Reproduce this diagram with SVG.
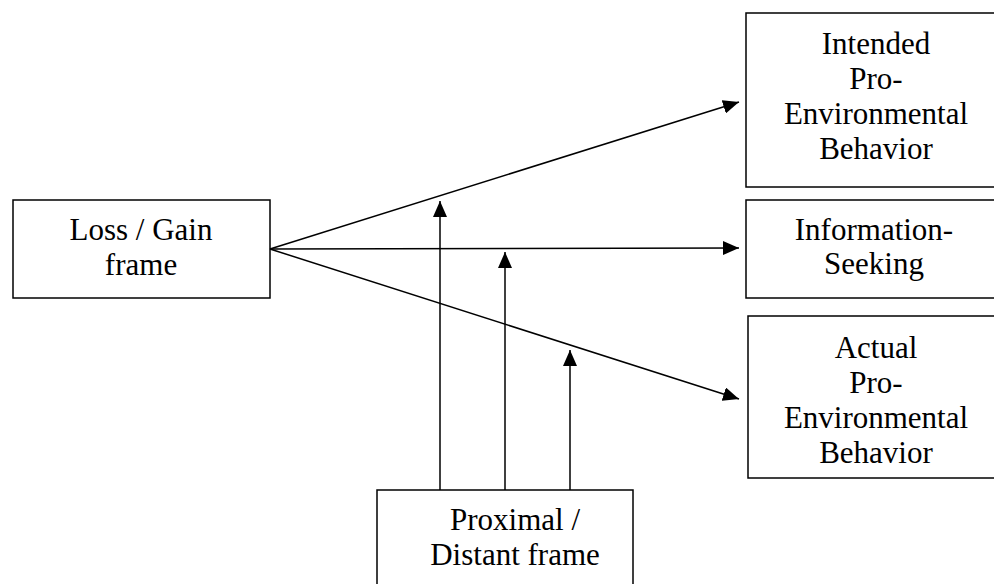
<svg xmlns="http://www.w3.org/2000/svg" width="994" height="584" viewBox="0 0 994 584">
<style>
.box{fill:#fff;stroke:#000;stroke-width:1.5}
.t{font-family:"Liberation Serif","Times New Roman",serif;font-size:31px;fill:#000;text-anchor:middle}
.c{stroke:#000;stroke-width:1.5;fill:none;marker-end:url(#ah)}
</style>
<defs>
<marker id="ah" viewBox="0 0 16 14" refX="16" refY="7" markerWidth="16" markerHeight="14" markerUnits="userSpaceOnUse" orient="auto">
<path d="M0,0 L16,7 L0,14 Z" fill="#000"/>
</marker>
</defs>
<rect width="994" height="584" fill="#fff"/>
<g id="loss-gain">
<rect class="box" x="13" y="200" width="257" height="98"/>
<text class="t" x="141" y="240">Loss / Gain</text>
<text class="t" x="141" y="275">frame</text>
</g>
<g id="intended">
<rect class="box" x="746" y="13" width="260" height="174"/>
<text class="t" x="876" y="54">Intended</text>
<text class="t" x="876" y="89">Pro-</text>
<text class="t" x="876" y="124">Environmental</text>
<text class="t" x="876" y="159">Behavior</text>
</g>
<g id="info">
<rect class="box" x="746" y="200" width="260" height="98"/>
<text class="t" x="874" y="240">Information-</text>
<text class="t" x="874" y="274">Seeking</text>
</g>
<g id="actual">
<rect class="box" x="748" y="316" width="260" height="162"/>
<text class="t" x="876" y="358">Actual</text>
<text class="t" x="876" y="393">Pro-</text>
<text class="t" x="876" y="428">Environmental</text>
<text class="t" x="876" y="463">Behavior</text>
</g>
<g id="proximal">
<rect class="box" x="377" y="490" width="256" height="110"/>
<text class="t" x="515" y="530">Proximal /</text>
<text class="t" x="515" y="565">Distant frame</text>
</g>
<g id="connectors">
<line class="c" x1="270" y1="249" x2="739" y2="102"/>
<line class="c" x1="270" y1="249" x2="739" y2="248"/>
<line class="c" x1="270" y1="249" x2="739" y2="399"/>
<line class="c" x1="440" y1="490" x2="440" y2="201"/>
<line class="c" x1="505" y1="490" x2="505" y2="252"/>
<line class="c" x1="570" y1="490" x2="570" y2="350"/>
</g>
</svg>
